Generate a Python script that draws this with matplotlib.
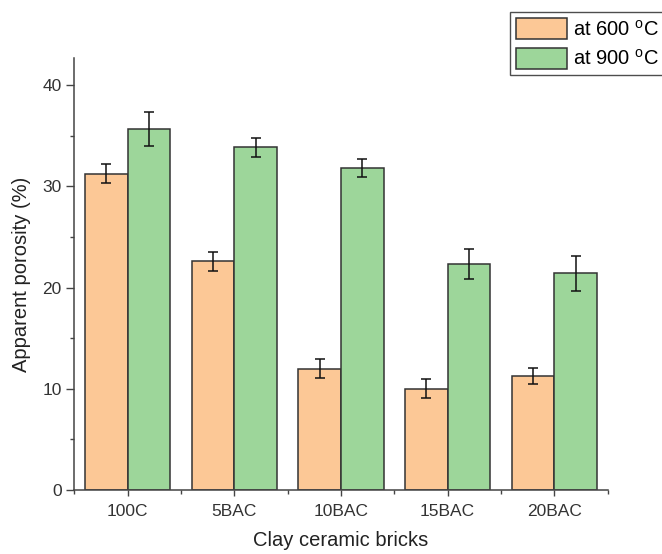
import numpy as np
import matplotlib
matplotlib.use("Agg")
import matplotlib.pyplot as plt
from matplotlib.ticker import MultipleLocator

plt.rcParams['font.family'] = ['Liberation Sans', 'DejaVu Sans']
plt.rcParams['mathtext.fontset'] = 'custom'
plt.rcParams['mathtext.rm'] = 'Liberation Sans'

# data
samples = ['100C', '5BAC', '10BAC', '15BAC', '20BAC']
porosity_600 = [31.25, 22.6, 12.0, 10.0, 11.25]
err_600 = [0.9, 0.95, 0.95, 0.95, 0.8]
porosity_900 = [35.65, 33.85, 31.8, 22.35, 21.4]
err_900 = [1.65, 0.95, 0.85, 1.5, 1.75]

orange = '#FCC896'
green = '#9DD69A'
edge = '#333333'

fig = plt.figure(figsize=(6.62, 5.54), dpi=100)
ax = fig.add_axes([0.112, 0.1155, 0.806, 0.7795])

x = np.arange(len(samples))
w = 0.4
ax.bar(x - w / 2, porosity_600, w, color=orange, edgecolor=edge, linewidth=1.1,
       label='at 600 $^{\\mathrm{o}}$C')
ax.bar(x + w / 2, porosity_900, w, color=green, edgecolor=edge, linewidth=1.1,
       label='at 900 $^{\\mathrm{o}}$C')
ax.errorbar(x - w / 2, porosity_600, yerr=err_600, fmt='none', ecolor='#111111',
            elinewidth=1.1, capsize=3.5, capthick=1.1)
ax.errorbar(x + w / 2, porosity_900, yerr=err_900, fmt='none', ecolor='#111111',
            elinewidth=1.1, capsize=3.5, capthick=1.1)

ax.set_xlim(-0.5, 4.5)
ax.set_ylim(0, 42.65)
ax.set_xticks(x)
ax.set_xticklabels(samples)
ax.set_xticks(np.arange(-0.5, 5, 1), minor=True)
ax.yaxis.set_major_locator(MultipleLocator(10))
ax.yaxis.set_minor_locator(MultipleLocator(5))

for s in ['top', 'right']:
    ax.spines[s].set_visible(False)
for s in ['left', 'bottom']:
    ax.spines[s].set_color('#444444')
    ax.spines[s].set_linewidth(1.1)

ax.tick_params(axis='y', which='major', direction='out', length=6, width=1, color='#444444',
               labelsize=12.5, labelcolor='#333333', pad=3)
ax.tick_params(axis='y', which='minor', direction='out', length=3, width=1, color='#444444')
ax.tick_params(axis='x', which='major', direction='out', length=4, width=1, color='#444444',
               labelsize=12.5, labelcolor='#333333', pad=6)
ax.tick_params(axis='x', which='minor', direction='out', length=3, width=1, color='#444444')

ax.set_xlabel('Clay ceramic bricks', fontsize=14.5, color='#222222', labelpad=9)
ax.set_ylabel('Apparent porosity (%)', fontsize=14.5, color='#222222', labelpad=8)

# legend runs off the right edge like in the reference
leg = ax.legend(loc='upper left', bbox_to_anchor=(510 / 662, 1 - 12 / 554),
                bbox_transform=fig.transFigure, fontsize=14.5, frameon=True,
                fancybox=False, edgecolor='#222222', handlelength=2.55, handleheight=1.25,
                handletextpad=0.3, borderpad=0.3, labelspacing=0.4, borderaxespad=0)
leg.get_frame().set_linewidth(1.0)

fig.savefig('out.png', dpi=100)
